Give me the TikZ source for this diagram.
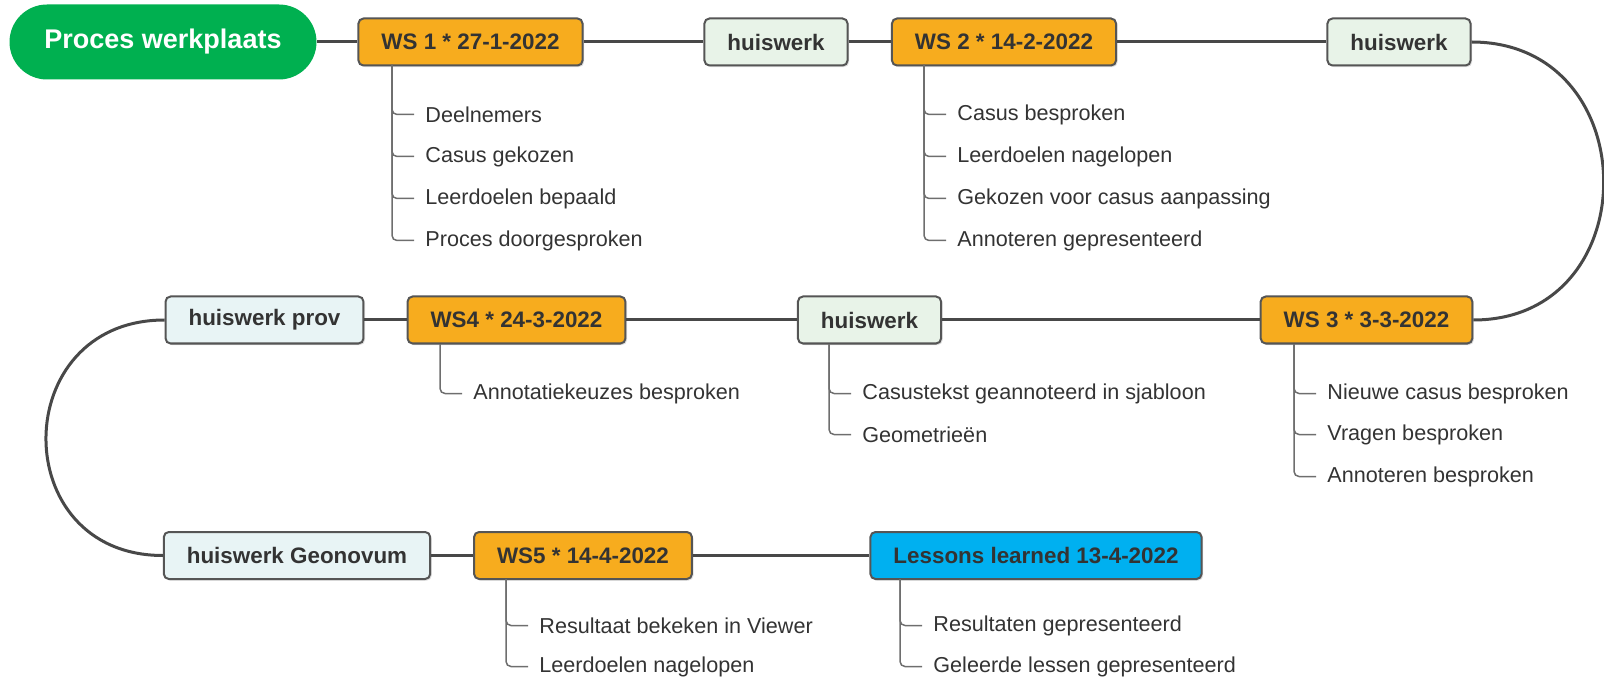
\documentclass[tikz,border=0pt]{standalone}
\usepackage{fontspec}
\setmainfont{Liberation Sans}
\usepackage{xcolor}
\usetikzlibrary{positioning,calc,shadows}

\definecolor{wsorange}{RGB}{247,172,30}
\definecolor{hwgreen}{RGB}{232,243,232}
\definecolor{hwblue}{RGB}{232,244,245}
\definecolor{llblue}{RGB}{0,176,240}
\definecolor{pillgreen}{RGB}{0,176,80}
\definecolor{edgegray}{RGB}{85,85,85}
\definecolor{linegray}{RGB}{72,72,72}
\definecolor{twiggray}{RGB}{110,110,110}
\definecolor{textgray}{RGB}{51,51,51}

\tikzset{
	box/.style={
		draw=edgegray,
		line width=1pt,
		rounded corners=2.5pt,
		minimum height=23.5pt,
		inner xsep=11.5pt,
		text=textgray,
		font=\fontsize{11.2}{13}\selectfont\bfseries,
		drop shadow={shadow xshift=0.8pt,shadow yshift=-0.8pt,opacity=0.25}
	},
	ws/.style={box,fill=wsorange},
	hw/.style={box,fill=hwgreen},
	hwb/.style={box,fill=hwblue},
	ll/.style={box,fill=llblue},
	pill/.style={
		fill=pillgreen,
		rounded corners=18.75pt,
		minimum width=153.5pt,
		minimum height=37.5pt,
		text=white,
		font=\fontsize{13.5}{16}\selectfont\bfseries
	},
	item/.style={
		anchor=west,
		inner xsep=5.5pt,
		yshift=-1.75pt,
		text=textgray,
		font=\fontsize{10.8}{13}\selectfont
	},
	chain/.style={draw=linegray,line width=1.5pt},
	twig/.style={draw=twiggray,line width=0.75pt,rounded corners=2.5pt}
}

\begin{document}
\begin{tikzpicture}[x=0.5pt,y=-0.5pt]
		
		\useasboundingbox (0,0) rectangle (1604,678);
		
		% main line of sessions
		\node[pill] (P) at (163,42) {Proces werkplaats};
		\node[ws] (W1) at (470.5,42) {WS 1 * 27-1-2022};
		\node[hw] (H1) at (776,42) {huiswerk};
		\node[ws] (W2) at (1004,42) {WS 2 * 14-2-2022};
		\node[hw] (H2) at (1399,42) {huiswerk};
		
		\node[ws] (W3) at (1366.5,320) {WS 3 * 3-3-2022};
		\node[hw] (H3) at (869.5,320) {huiswerk};
		\node[ws] (W4) at (516.5,320) {WS4 * 24-3-2022};
		\node[hwb] (HP) at (264.5,320) {huiswerk prov};
		
		\node[hwb] (HG) at (297,555.5) {huiswerk Geonovum};
		\node[ws] (W5) at (583,555.5) {WS5 * 14-4-2022};
		\node[ll] (L) at (1036,555.5) {Lessons learned 13-4-2022};
		
		\draw[chain] (P.east) -- (W1.west);
		\draw[chain] (W1.east) -- (H1.west);
		\draw[chain] (H1.east) -- (W2.west);
		\draw[chain] (W2.east) -- (H2.west);
		\draw[chain] (H2.east) .. controls +(175,0) and +(175,0) .. (W3.east);
		\draw[chain] (W3.west) -- (H3.east);
		\draw[chain] (H3.west) -- (W4.east);
		\draw[chain] (W4.west) -- (HP.east);
		\draw[chain] (HP.west) .. controls +(-157,0) and +(-157,0) .. (HG.west);
		\draw[chain] (HG.east) -- (W5.west);
		\draw[chain] (W5.east) -- (L.west);
		
		% points under each session
		\node[item] (W1a) at (414,111) {Deelnemers};
		\node[item] (W1b) at (414,153) {Casus gekozen};
		\node[item] (W1c) at (414,195) {Leerdoelen bepaald};
		\node[item] (W1d) at (414,237) {Proces doorgesproken};
		
		\node[item] (W2a) at (946,111) {Casus besproken};
		\node[item] (W2b) at (946,153) {Leerdoelen nagelopen};
		\node[item] (W2c) at (946,195) {Gekozen voor casus aanpassing};
		\node[item] (W2d) at (946,237) {Annoteren gepresenteerd};
		
		\node[item] (W3a) at (1316,390) {Nieuwe casus besproken};
		\node[item] (W3b) at (1316,431) {Vragen besproken};
		\node[item] (W3c) at (1316,473) {Annoteren besproken};
		
		\node[item] (H3a) at (851,390) {Casustekst geannoteerd in sjabloon};
		\node[item] (H3b) at (851,431) {Geometrieën};
		
		\node[item] (W4a) at (462,390) {Annotatiekeuzes besproken};
		
		\node[item] (W5a) at (528,622) {Resultaat bekeken in Viewer};
		\node[item] (W5b) at (528,663) {Leerdoelen nagelopen};
		
		\node[item] (La) at (922,622) {Resultaten gepresenteerd};
		\node[item] (Lb) at (922,663) {Geleerde lessen gepresenteerd};
		
		\coordinate (W1t) at (392,65);
		\coordinate (W2t) at (924,65);
		\coordinate (W3t) at (1294,344);
		\coordinate (H3t) at (829,344);
		\coordinate (W4t) at (440,344);
		\coordinate (W5t) at (506,579);
		\coordinate (Lt) at (900,579);
		
		\draw[twig] (W1t) |- (W1a.west);
		\draw[twig] (W1t) |- (W1b.west);
		\draw[twig] (W1t) |- (W1c.west);
		\draw[twig] (W1t) |- (W1d.west);
		\draw[twig] (W2t) |- (W2a.west);
		\draw[twig] (W2t) |- (W2b.west);
		\draw[twig] (W2t) |- (W2c.west);
		\draw[twig] (W2t) |- (W2d.west);
		\draw[twig] (W3t) |- (W3a.west);
		\draw[twig] (W3t) |- (W3b.west);
		\draw[twig] (W3t) |- (W3c.west);
		\draw[twig] (H3t) |- (H3a.west);
		\draw[twig] (H3t) |- (H3b.west);
		\draw[twig] (W4t) |- (W4a.west);
		\draw[twig] (W5t) |- (W5a.west);
		\draw[twig] (W5t) |- (W5b.west);
		\draw[twig] (Lt) |- (La.west);
		\draw[twig] (Lt) |- (Lb.west);
		
	\end{tikzpicture}
\end{document}
